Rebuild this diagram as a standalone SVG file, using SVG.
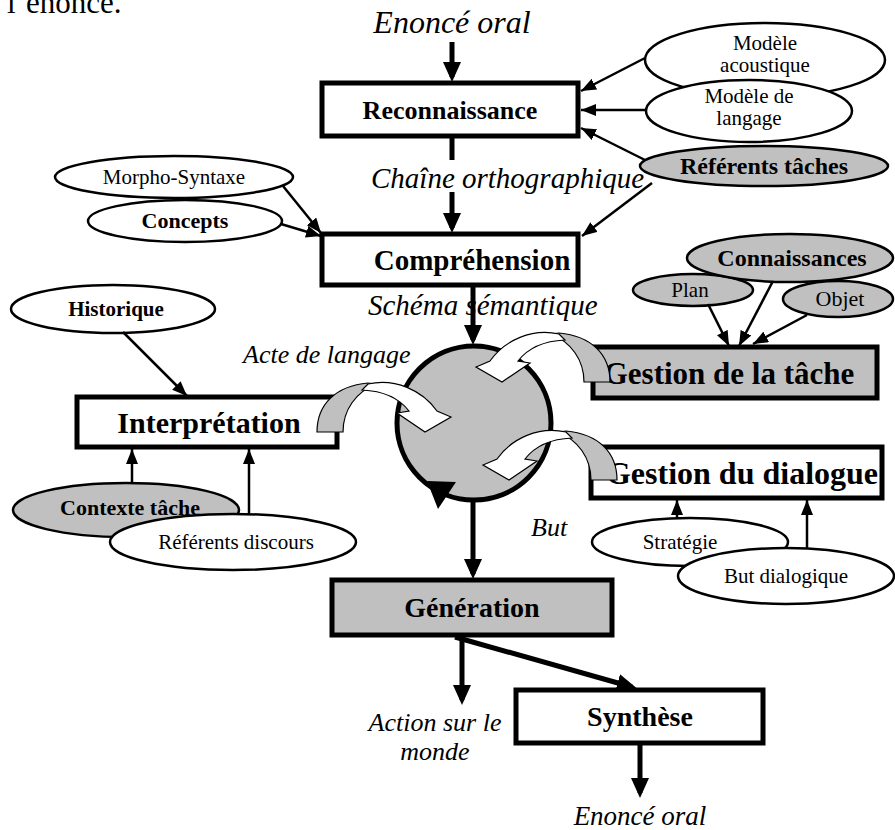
<svg xmlns="http://www.w3.org/2000/svg" width="895" height="830" viewBox="0 0 895 830">
<style>
.box{fill:#fff;stroke:#000;stroke-width:5}
.gbox{fill:#c0c0c0;stroke:#000;stroke-width:5}
.sh{fill:#000}
.ell{fill:#fff;stroke:#000;stroke-width:2.5}
.gell{fill:#c0c0c0;stroke:#000;stroke-width:2.5}
text{font-family:"Liberation Serif","Times New Roman",serif;fill:#000}
.lbl{font-weight:bold;font-size:28px;text-anchor:middle}
.it{font-style:italic;font-size:26px}
.itc{font-style:italic;font-size:26px;text-anchor:middle}
.et{font-size:21px;text-anchor:middle}
.etb{font-size:21px;font-weight:bold;text-anchor:middle}
.thick{stroke:#000;stroke-width:5;fill:none}
.thin{stroke:#000;stroke-width:2.5;fill:none}
.cg{fill:#c0c0c0;stroke:#000;stroke-width:1.2}
.cw{fill:#fff;stroke:#000;stroke-width:1.2}
</style>
<defs>
<marker id="ah" viewBox="0 0 20 18" refX="15" refY="9" markerWidth="20" markerHeight="18" markerUnits="userSpaceOnUse" orient="auto"><path d="M0,0 L20,9 L0,18 Z" fill="#000"/></marker>
<marker id="as" viewBox="0 0 15 12" refX="15" refY="6" markerWidth="15" markerHeight="12" markerUnits="userSpaceOnUse" orient="auto"><path d="M0,0 L15,6 L0,12 Z" fill="#000"/></marker>
<g id="curv">
<path class="cg" d="M317,432 C317,404 336,386 368,383 L376,384 C356,392 343,410 343,432 Z"/>
<path class="cw" d="M368,384 C395,378 422,390 437,411 L451,417 L425,432 L397,413 L409,411 C399,398 385,391 362,390 Z"/>
</g>
</defs>
<rect width="895" height="830" fill="#fff"/>
<text x="7" y="13" style="font-size:31px">l’énoncé.</text>

<g id="labels">
<text class="itc" x="452" y="33" style="font-size:32px">Enoncé oral</text>
<text class="it" x="371" y="188" style="font-size:29px">Chaîne orthographique</text>
<text class="it" x="368" y="315" style="font-size:29px">Schéma sémantique</text>
<text class="it" x="243" y="363">Acte de langage</text>
<text class="it" x="531" y="536">But</text>
<text class="itc" x="435" y="731">Action sur le</text>
<text class="itc" x="435" y="760">monde</text>
<text class="itc" x="640" y="825" style="font-size:27px">Enoncé oral</text>
</g>

<g id="n-acoustique"><ellipse class="ell" cx="765" cy="60" rx="120" ry="37"/><text class="et" x="765" y="50">Modèle</text><text class="et" x="765" y="72">acoustique</text></g>
<g id="n-langage"><ellipse class="ell" cx="749" cy="111" rx="103" ry="31"/><text class="et" x="749" y="103">Modèle de</text><text class="et" x="749" y="125">langage</text></g>
<g id="n-referents-taches"><ellipse class="gell" cx="764" cy="166" rx="124" ry="20"/><text class="etb" x="764" y="174" style="font-size:24px">Référents tâches</text></g>
<g id="n-reconnaissance"><rect class="sh" x="324" y="85" width="256" height="53"/><rect class="box" x="322" y="83" width="256" height="53"/><text class="lbl" x="450" y="119" style="font-size:26px">Reconnaissance</text></g>

<g id="n-morpho"><ellipse class="ell" cx="174" cy="177" rx="119" ry="21"/><text class="et" x="174" y="184">Morpho-Syntaxe</text></g>
<g id="n-concepts"><ellipse class="ell" cx="185" cy="221" rx="97" ry="21"/><text class="etb" x="185" y="228" style="font-size:22px">Concepts</text></g>
<g id="n-comprehension"><rect class="sh" x="324" y="236" width="256" height="51"/><rect class="box" x="322" y="234" width="256" height="51"/><text class="lbl" x="472" y="270" style="font-size:29px">Compréhension</text></g>

<g id="n-plan"><ellipse class="gell" cx="693" cy="290" rx="60" ry="16"/><text class="et" x="690" y="297">Plan</text></g>
<g id="n-connaissances"><ellipse class="gell" cx="790" cy="258" rx="103" ry="24"/><text class="etb" x="792" y="266" style="font-size:24px">Connaissances</text></g>
<g id="n-objet"><ellipse class="gell" cx="838" cy="299" rx="55" ry="18"/><text class="et" x="840" y="306" style="font-size:22px">Objet</text></g>
<g id="n-gestion-tache"><rect class="sh" x="595" y="349" width="284" height="51"/><rect class="gbox" x="593" y="347" width="284" height="51"/><text class="lbl" x="729" y="384" style="font-size:31px">Gestion de la tâche</text></g>

<g id="n-historique"><ellipse class="ell" cx="113" cy="309" rx="102" ry="24"/><text class="etb" x="116" y="316">Historique</text></g>
<g id="n-interpretation"><rect class="sh" x="79" y="399" width="260" height="50"/><rect class="box" x="77" y="397" width="260" height="50"/><text class="lbl" x="209" y="433" style="font-size:30px">Interprétation</text></g>
<g id="n-contexte"><ellipse class="gell" cx="126" cy="510" rx="113" ry="27"/><text class="etb" x="130" y="515" style="font-size:22px">Contexte tâche</text></g>
<g id="n-ref-discours"><ellipse class="ell" cx="233" cy="542" rx="123" ry="28"/><text class="et" x="236" y="549">Référents discours</text></g>

<g id="n-gestion-dialogue"><rect class="sh" x="593" y="449" width="291" height="51"/><rect class="box" x="591" y="447" width="291" height="51"/><text class="lbl" x="742" y="484" style="font-size:32px">Gestion du dialogue</text></g>
<g id="n-strategie"><ellipse class="ell" cx="690" cy="542" rx="98" ry="24"/><text class="et" x="680" y="549">Stratégie</text></g>
<g id="n-but-dialogique"><ellipse class="ell" cx="786" cy="576" rx="108" ry="28"/><text class="et" x="786" y="583">But dialogique</text></g>

<g id="n-controle"><circle cx="474" cy="423" r="77" fill="#c0c0c0" stroke="#000" stroke-width="5"/><polygon points="427,481 456,482 438,509" fill="#000"/></g>

<g id="n-generation"><rect class="sh" x="334" y="582" width="280" height="55"/><rect class="gbox" x="332" y="580" width="280" height="55"/><text class="lbl" x="472" y="617">Génération</text></g>
<g id="n-synthese"><rect class="sh" x="518" y="692" width="247" height="53"/><rect class="box" x="516" y="690" width="247" height="53"/><text class="lbl" x="640" y="726">Synthèse</text></g>

<g id="connectors">
<line class="thick" x1="452" y1="42" x2="452" y2="77" marker-end="url(#ah)"/>
<line class="thick" x1="452" y1="137" x2="452" y2="160"/>
<line class="thick" x1="452" y1="192" x2="452" y2="228" marker-end="url(#ah)"/>
<line class="thick" x1="473" y1="286" x2="473" y2="340" marker-end="url(#ah)"/>
<line class="thick" x1="473" y1="501" x2="473" y2="574" marker-end="url(#ah)"/>
<line class="thick" x1="462" y1="637" x2="462" y2="700" marker-end="url(#ah)"/>
<line class="thick" x1="455" y1="637" x2="632" y2="687" marker-end="url(#ah)"/>
<line class="thick" x1="640" y1="745" x2="640" y2="793" marker-end="url(#ah)"/>

<line class="thin" x1="645" y1="58" x2="581" y2="91" marker-end="url(#as)"/>
<line class="thin" x1="646" y1="110" x2="581" y2="110" marker-end="url(#as)"/>
<line class="thin" x1="645" y1="160" x2="581" y2="128" marker-end="url(#as)"/>
<line class="thin" x1="652" y1="183" x2="582" y2="236" marker-end="url(#as)"/>
<line class="thin" x1="283" y1="186" x2="321" y2="233" marker-end="url(#as)"/>
<line class="thin" x1="281" y1="224" x2="321" y2="236" marker-end="url(#as)"/>
<line class="thin" x1="708" y1="304" x2="729" y2="346" marker-end="url(#as)"/>
<line class="thin" x1="773" y1="281" x2="739" y2="346" marker-end="url(#as)"/>
<line class="thin" x1="807" y1="315" x2="753" y2="344" marker-end="url(#as)"/>
<line class="thin" x1="123" y1="332" x2="187" y2="396" marker-end="url(#as)"/>
<line class="thin" x1="132" y1="483" x2="132" y2="449" marker-end="url(#as)"/>
<line class="thin" x1="249" y1="514" x2="249" y2="449" marker-end="url(#as)"/>
<line class="thin" x1="677" y1="518" x2="677" y2="500" marker-end="url(#as)"/>
<line class="thin" x1="807" y1="548" x2="807" y2="500" marker-end="url(#as)"/>

<use href="#curv"/>
<use href="#curv" transform="translate(927,-50) scale(-1,1)"/>
<use href="#curv" transform="translate(934,48) scale(-1,1)"/>
</g>
</svg>
